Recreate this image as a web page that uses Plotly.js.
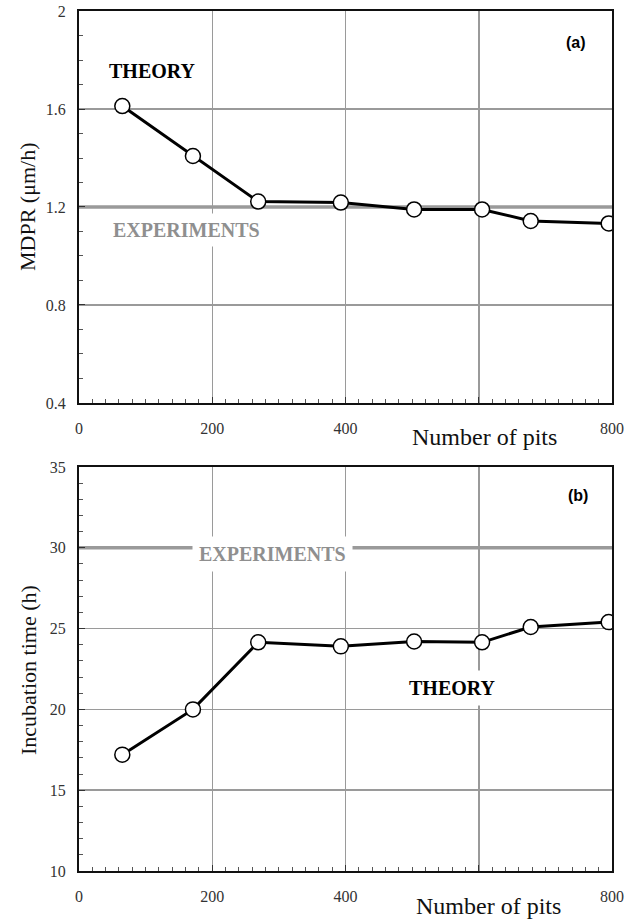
<!DOCTYPE html>
<html>
<head>
<meta charset="utf-8">
<script src="https://cdn.plot.ly/plotly-3.0.1.min.js"></script>
<style>html,body{margin:0;padding:0;background:#fff;}#chart{width:634px;height:924px;}</style>
</head>
<body>
<div id="chart"></div>
<script>
// Data
const pits = [65, 171, 269, 393, 503, 605, 678, 795];
const mdprTheory = [1.612, 1.408, 1.222, 1.218, 1.19, 1.19, 1.143, 1.133];
const incubationTheory = [17.2, 20.0, 24.15, 23.9, 24.2, 24.15, 25.1, 25.4];
const expX = [0, 800];
const mdprExperiment = [1.2, 1.2];
const incubationExperiment = [30, 30];
const xTickVals = [0, 200, 400, 600, 800];
const xTickText = ['0', '200', '400', '', '800'];
const mdprTickVals = [0.4, 0.8, 1.2, 1.6, 2];
const mdprTickText = ['0.4', '0.8', '1.2', '1.6', '2'];
const incTickVals = [10, 15, 20, 25, 30, 35];
const incTickText = ['10', '15', '20', '25', '30', '35'];

const serif = '"Liberation Serif", "Times New Roman", serif';
const sans = '"Liberation Sans", Arial, sans-serif';
const gridCol = '#9a9a9a';
const expCol = '#9a9a9a';

const theoryLine = {color: '#000', width: 3};
const theoryMarker = {symbol: 'circle', size: 15, color: '#fff', line: {color: '#000', width: 1.5}};

const traces = [
  {x: expX, y: mdprExperiment, xaxis: 'x', yaxis: 'y', mode: 'lines', line: {color: expCol, width: 3.5}, hoverinfo: 'skip'},
  {x: pits, y: mdprTheory, xaxis: 'x', yaxis: 'y', mode: 'lines+markers', line: theoryLine, marker: theoryMarker},
  {x: expX, y: incubationExperiment, xaxis: 'x2', yaxis: 'y2', mode: 'lines', line: {color: expCol, width: 3.5}, hoverinfo: 'skip'},
  {x: pits, y: incubationTheory, xaxis: 'x2', yaxis: 'y2', mode: 'lines+markers', line: theoryLine, marker: theoryMarker}
];

function xAxis(anchor) {
  return {
    anchor: anchor, range: [0, 800], tickvals: xTickVals, ticktext: xTickText,
    showgrid: true, gridcolor: gridCol, gridwidth: 1.5, zeroline: false,
    showline: true, mirror: true, linecolor: '#111', linewidth: 2,
    ticks: 'inside', ticklen: 6, tickcolor: '#333', ticklabelstandoff: 10,
    minor: {ticks: 'inside', dtick: 20, ticklen: 4, tickcolor: '#555', showgrid: false},
    tickfont: {family: serif, size: 16, color: '#333'}
  };
}
function yAxis(anchor, domain, range, tv, tt, minorD) {
  return {
    anchor: anchor, domain: domain, range: range, tickvals: tv, ticktext: tt,
    showgrid: true, gridcolor: gridCol, gridwidth: 1.5, zeroline: false,
    showline: true, mirror: true, linecolor: '#111', linewidth: 2,
    ticks: 'inside', ticklen: 6, tickcolor: '#333', ticklabelstandoff: 8,
    minor: {ticks: 'inside', dtick: minorD, ticklen: 4, tickcolor: '#555', showgrid: false},
    tickfont: {family: serif, size: 16, color: '#333'}
  };
}

const boldSerif = {family: serif, size: 20, color: '#000'};
const expFont = {family: serif, size: 20, color: '#8f8f8f'};
const labelFont = {family: sans, size: 16, color: '#000'};
const titleFont = {family: serif, size: 24, color: '#111'};
const yTitleFont = {family: serif, size: 22, color: '#111'};

function note(xref, yref, x, y, text, font, extra) {
  return Object.assign({xref: xref, yref: yref, x: x, y: y, text: text, font: font,
    showarrow: false, xanchor: 'center', yanchor: 'middle'}, extra || {});
}

const layout = {
  width: 634, height: 924,
  margin: {l: 79, r: 22, t: 11, b: 53},
  paper_bgcolor: '#fff', plot_bgcolor: '#fff',
  showlegend: false,
  xaxis: xAxis('y'),
  yaxis: yAxis('x', [0.5442, 1], [0.4, 2], mdprTickVals, mdprTickText, 0.1),
  xaxis2: xAxis('y2'),
  yaxis2: yAxis('x2', [0, 0.4698], [10, 35], incTickVals, incTickText, 1),
  annotations: [
    note('x', 'y', 110, 1.755, '<b>THEORY</b>', boldSerif),
    note('x', 'y', 161, 1.106, '<b>EXPERIMENTS</b>', expFont, {bgcolor: '#fff', borderpad: 5}),
    note('x', 'y', 746, 1.873, '<b>(a)</b>', labelFont),
    note('x2', 'y2', 290, 29.62, '<b>EXPERIMENTS</b>', expFont, {bgcolor: '#fff', borderpad: 6}),
    note('x2', 'y2', 560, 21.3, '<b>THEORY</b>', boldSerif, {bgcolor: '#fff', borderpad: 6}),
    note('x2', 'y2', 749, 33.25, '<b>(b)</b>', labelFont),
    note('x', 'paper', 609, (871 - 437) / 860, 'Number of pits', titleFont),
    note('x2', 'paper', 614, (871 - 906) / 860, 'Number of pits', titleFont),
    note('paper', 'paper', -51 / 533, (871 - 207) / 860, 'MDPR (μm/h)', yTitleFont, {textangle: -90}),
    note('paper', 'paper', -51 / 533, (871 - 670) / 860, 'Incubation time (h)', yTitleFont, {textangle: -90})
  ]
};

Plotly.newPlot('chart', traces, layout, {displayModeBar: false, staticPlot: true});
</script>
</body>
</html>
